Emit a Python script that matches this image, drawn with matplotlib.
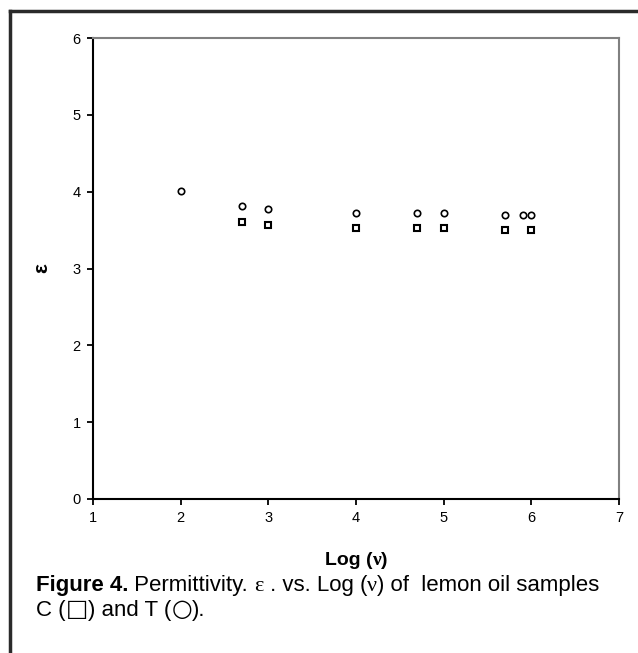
import matplotlib
matplotlib.use("Agg")
import matplotlib.pyplot as plt
from matplotlib.lines import Line2D

plt.rcParams['font.family'] = ['Liberation Sans', 'DejaVu Sans']

# Data
x_C = [2.7, 3.0, 4.0, 4.7, 5.0, 5.7, 6.0]
eps_C = [3.60, 3.56, 3.53, 3.53, 3.53, 3.50, 3.50]
x_T = [2.0, 2.7, 3.0, 4.0, 4.7, 5.0, 5.7, 5.9, 6.0]
eps_T = [4.01, 3.81, 3.77, 3.72, 3.72, 3.72, 3.69, 3.69, 3.69]
x_ticks = [1, 2, 3, 4, 5, 6, 7]
y_ticks = [0, 1, 2, 3, 4, 5, 6]

W, H = 638, 653
fig = plt.figure(figsize=(W / 100, H / 100), dpi=100)
ax = fig.add_axes([93 / W, 1 - 499 / H, (619 - 93) / W, (499 - 38) / H])

ax.plot(x_T, eps_T, linestyle='none', marker='o', markersize=4.6,
        markerfacecolor='white', markeredgecolor='black', markeredgewidth=1.2)
ax.plot(x_C, eps_C, linestyle='none', marker='s', markersize=4.2,
        markerfacecolor='white', markeredgecolor='black', markeredgewidth=1.5)

ax.set_xlim(1, 7)
ax.set_ylim(0, 6)
ax.set_xticks(x_ticks)
ax.set_yticks(y_ticks)
ax.tick_params(direction='out', length=4, width=1.3, color='black',
               labelsize=10.5, pad=5)
for s in ['left', 'bottom']:
    ax.spines[s].set_color('black')
    ax.spines[s].set_linewidth(1.5)
for s in ['top', 'right']:
    ax.spines[s].set_color('#808080')
    ax.spines[s].set_linewidth(1.5)

fig.text(42 / W, 1 - 268 / H, 'ε', rotation=90, fontsize=15, fontweight='bold',
         ha='center', va='center')

fig.canvas.draw()
r = fig.canvas.get_renderer()


def run_line(x0, y, pieces, fs, bold_first=False):
    xn = x0
    for i, (txt, fam, size) in enumerate(pieces):
        kw = {}
        if fam == 'serif':
            kw['family'] = ['Liberation Serif', 'DejaVu Serif']
        elif fam == 'dejavu':
            kw['family'] = ['DejaVu Sans']
        if bold_first and i == 0:
            kw['fontweight'] = 'bold'
        t = fig.text(xn, y, txt, fontsize=size or fs, ha='left', va='baseline', **kw)
        fig.canvas.draw()
        xn = t.get_window_extent(r).x1 / W
    return xn


# x-axis label centred at x=356
lab_pieces = [('Log (', None), ('ν', 'serif'), (')', None)]
fs_lab = 14
widths = []
for txt, fam in lab_pieces:
    kw = {'family': ['Liberation Serif', 'DejaVu Serif']} if fam else {}
    t = fig.text(0, 0, txt, fontsize=fs_lab, fontweight='bold', **kw)
    widths.append(t.get_window_extent(r).width)
    t.remove()
xn = 356 - sum(widths) / 2
for (txt, fam), w in zip(lab_pieces, widths):
    kw = {'family': ['Liberation Serif', 'DejaVu Serif']} if fam else {}
    fig.text(xn / W, 1 - 565 / H, txt, fontsize=fs_lab, fontweight='bold',
             ha='left', va='baseline', **kw)
    xn += w

fs = 16
cap_x = 36 / W
run_line(cap_x, 1 - 591 / H,
         [('Figure 4.', None, None), (' Permittivity. ', None, None),
          ('ε', 'serif', None), (' . vs. Log (', None, None),
          ('ν', 'serif', None), (') of  lemon oil samples', None, None)],
         fs, bold_first=True)
run_line(cap_x, 1 - 616 / H,
         [('C (', None, None), ('□', 'dejavu', 17), (') and T (', None, None),
          ('○', 'dejavu', 17), (').', None, None)], fs)

# figure frame (top and left)
fig.add_artist(Line2D([10 / W, 1], [1 - 11 / H, 1 - 11 / H],
                      transform=fig.transFigure, color='#2a2a2a', linewidth=2.5))
fig.add_artist(Line2D([10 / W, 10 / W], [0, 1 - 11 / H],
                      transform=fig.transFigure, color='#2a2a2a', linewidth=2.5))

fig.savefig('out.png', dpi=100)
